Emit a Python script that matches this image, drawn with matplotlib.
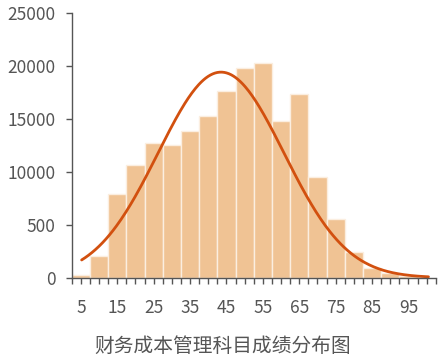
import numpy as np
import matplotlib
matplotlib.use("Agg")
import matplotlib.pyplot as plt
from matplotlib.ticker import MultipleLocator, FixedLocator

# histogram bins (centre of each 5-point score bin) and counts
bin_centers = [5, 10, 15, 20, 25, 30, 35, 40, 45, 50, 55, 60, 65, 70, 75, 80, 85, 90, 95]
counts = [230, 2050, 7900, 10700, 12750, 12570, 13890, 15300, 17700, 19830,
          20270, 14870, 17370, 9500, 5560, 2460, 890, 420, 150]

# fitted normal curve parameters
curve_mean = 43.5
curve_std = 17.3
curve_peak = 19450
curve_start, curve_end = 5.2, 100.5

y_ticks = [0, 5000, 10000, 15000, 20000, 25000]
y_labels = ["0", "500", "10000", "15000", "20000", "25000"]
x_labels = [5, 15, 25, 35, 45, 55, 65, 75, 85, 95]
title = "财务成本管理科目成绩分布图"

plt.rcParams['font.family'] = ['Noto Sans CJK SC', 'DejaVu Sans']

fig = plt.figure(figsize=(4.46, 3.6), dpi=100)
ax = fig.add_axes([0.161, 0.2286, 0.816, 0.734])

ax.bar(bin_centers, counts, width=5, color='#f0c394', edgecolor='#fbeee0', linewidth=1.0)

xs = np.linspace(curve_start, curve_end, 300)
ys = curve_peak * np.exp(-(xs - curve_mean) ** 2 / (2 * curve_std ** 2))
ax.plot(xs, ys, color='#d2500f', linewidth=2.0, solid_capstyle='round')

ax.set_xlim(2.5, 102.5)
ax.set_ylim(0, 25000)

ax.xaxis.set_major_locator(FixedLocator(x_labels))
ax.xaxis.set_minor_locator(MultipleLocator(2.5))
ax.set_yticks(y_ticks)
ax.set_yticklabels(y_labels)

for s in ['top', 'right']:
    ax.spines[s].set_visible(False)
for s in ['left', 'bottom']:
    ax.spines[s].set_color('#555555')
    ax.spines[s].set_linewidth(1.0)

ax.tick_params(axis='both', which='both', direction='out', color='#555555',
               labelcolor='#555555', labelsize=12.5, length=4.5, width=1.0)
ax.tick_params(axis='x', which='major', pad=10.5)
ax.tick_params(axis='y', which='major', pad=7)

fig.text(0.5, 0.039, title, ha='center', va='center', fontsize=14.2, color='#555555')

fig.savefig("out.png", dpi=100)
